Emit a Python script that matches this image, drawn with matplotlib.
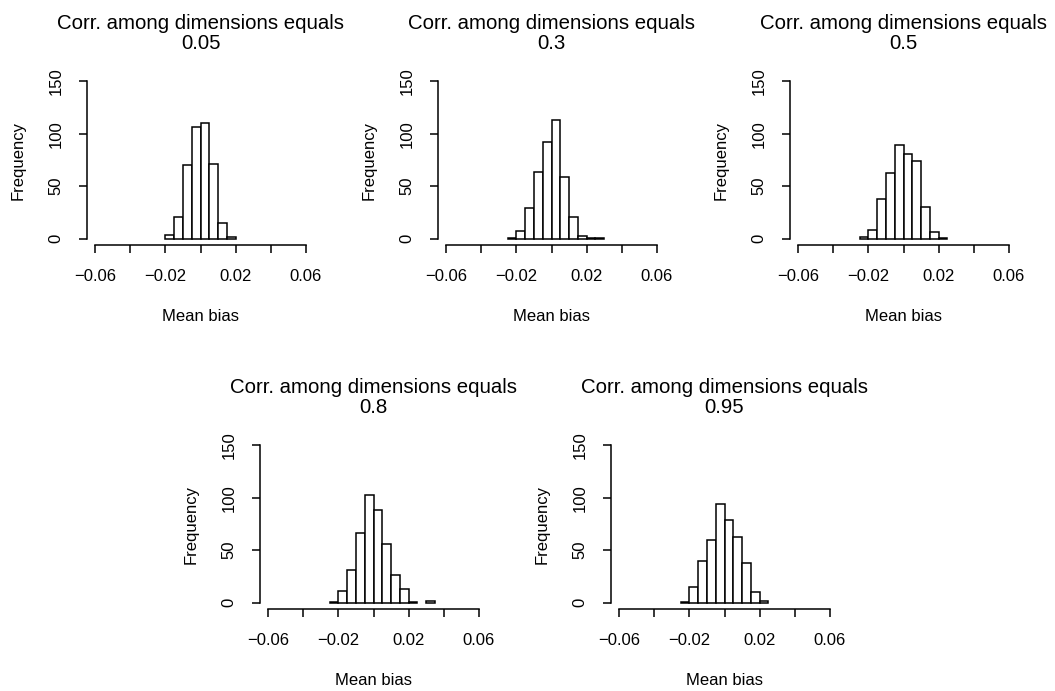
import matplotlib
matplotlib.use("Agg")
import matplotlib.pyplot as plt
import numpy as np

plt.rcParams["font.family"] = ["Liberation Sans", "DejaVu Sans"]

# correlation levels shown in the panel titles
corr_levels = ["0.05", "0.3", "0.5", "0.8", "0.95"]

# left edge of the first bin for each panel (bin width 0.005)
bin_start = [-0.020, -0.025, -0.025, -0.025, -0.025]
bin_width = 0.005

# histogram counts
counts_005 = [4, 21, 70, 106, 110, 71, 15, 2]
counts_030 = [1, 7, 29, 64, 92, 113, 59, 21, 3, 1, 1]
counts_050 = [2, 8, 38, 63, 89, 81, 74, 30, 6, 1]
counts_080 = [1, 11, 31, 66, 103, 88, 56, 26, 13, 1, 0, 2]
counts_095 = [1, 15, 40, 60, 94, 79, 63, 38, 10, 2]
all_counts = [counts_005, counts_030, counts_050, counts_080, counts_095]

x_ticks = [-0.06, -0.04, -0.02, 0.0, 0.02, 0.04, 0.06]
x_labels = ["\u22120.06", "", "\u22120.02", "", "0.02", "", "0.06"]
y_ticks = [0, 50, 100, 150]

W, H = 1055, 691
fig = plt.figure(figsize=(W / 100, H / 100), dpi=100)

# axes boxes in pixels: left, top, width, height
boxes = [
    (87, 75, 227, 170),
    (438, 75, 227, 170),
    (790, 75, 227, 170),
    (260, 439, 227, 170),
    (611, 439, 227, 170),
]

for (left, top, w, h), corr, counts, start in zip(boxes, corr_levels, all_counts, bin_start):
    ax = fig.add_axes([left / W, 1 - (top + h) / H, w / W, h / H])

    counts = np.array(counts)
    edges = start + bin_width * np.arange(len(counts))
    keep = counts > 0
    ax.bar(edges[keep], counts[keep], width=bin_width, align="edge",
           color="white", edgecolor="black", linewidth=1.1)

    ax.set_xlim(-0.0648, 0.0648)
    ax.set_ylim(-6, 156)

    # R style detached axes
    for side in ["top", "right"]:
        ax.spines[side].set_visible(False)
    ax.spines["left"].set_bounds(0, 150)
    ax.spines["bottom"].set_bounds(-0.06, 0.06)
    ax.spines["left"].set_linewidth(1.1)
    ax.spines["bottom"].set_linewidth(1.1)

    ax.set_xticks(x_ticks)
    ax.set_xticklabels(x_labels)
    ax.set_yticks(y_ticks)
    ax.set_yticklabels([str(v) for v in y_ticks])
    ax.tick_params(axis="both", length=6, width=1.1, labelsize=12)
    ax.tick_params(axis="x", pad=11)
    ax.tick_params(axis="y", pad=11, labelrotation=90)
    for lab in ax.get_yticklabels():
        lab.set_va("center")

    ax.set_xlabel("Mean bias", fontsize=12)
    ax.xaxis.set_label_coords(0.5, -64 / h)
    ax.set_ylabel("Frequency", fontsize=12)
    ax.yaxis.set_label_coords(-61 / w, 0.5)

    ax.set_title("Corr. among dimensions equals\n" + corr, fontsize=14.7, pad=19,
                 linespacing=1.05)

fig.savefig("out.png", dpi=100)
